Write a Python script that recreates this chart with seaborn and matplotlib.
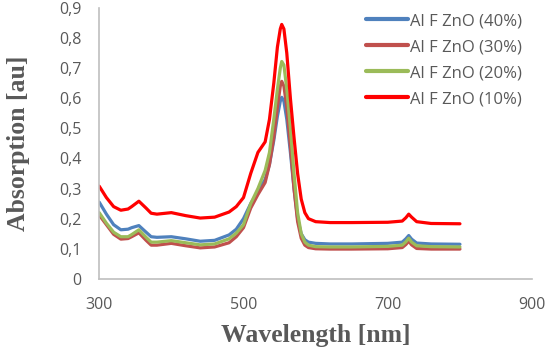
import numpy as np
import pandas as pd
import matplotlib
matplotlib.use("Agg")
import matplotlib.pyplot as plt
from matplotlib.ticker import FuncFormatter
import seaborn as sns

# wavelength grid (nm) shared by all four spectra
wavelength = [300, 310, 320, 330, 340, 345, 355, 365, 372, 380, 400, 420, 440, 460,
              480, 490, 500, 510, 520, 530, 536, 542, 547, 551, 553, 556, 560, 565,
              570, 575, 580, 585, 590, 600, 620, 650, 700, 720, 725, 729, 733, 740,
              760, 800]

abs_40 = [0.255, 0.215, 0.18, 0.163, 0.165, 0.17, 0.177, 0.155, 0.14, 0.138, 0.14, 0.133,
          0.125, 0.128, 0.146, 0.165, 0.2, 0.25, 0.29, 0.33, 0.38, 0.46, 0.54, 0.59,
          0.603, 0.59, 0.53, 0.42, 0.3, 0.2, 0.15, 0.13, 0.122, 0.118, 0.116, 0.116,
          0.118, 0.122, 0.133, 0.144, 0.132, 0.119, 0.116, 0.115]
abs_30 = [0.212, 0.18, 0.148, 0.132, 0.134, 0.14, 0.153, 0.128, 0.112, 0.112, 0.118, 0.11,
          0.103, 0.106, 0.12, 0.14, 0.17, 0.235, 0.28, 0.32, 0.38, 0.47, 0.57, 0.64,
          0.656, 0.64, 0.57, 0.44, 0.3, 0.19, 0.135, 0.112, 0.104, 0.1, 0.099, 0.099,
          0.1, 0.104, 0.114, 0.125, 0.113, 0.101, 0.099, 0.099]
abs_20 = [0.22, 0.185, 0.155, 0.14, 0.14, 0.147, 0.163, 0.138, 0.122, 0.122, 0.127, 0.12,
          0.113, 0.116, 0.133, 0.152, 0.18, 0.25, 0.3, 0.36, 0.42, 0.53, 0.63, 0.7,
          0.722, 0.71, 0.63, 0.5, 0.35, 0.22, 0.15, 0.122, 0.112, 0.107, 0.106, 0.106,
          0.108, 0.112, 0.123, 0.135, 0.122, 0.11, 0.107, 0.106]
abs_10 = [0.308, 0.27, 0.24, 0.228, 0.232, 0.24, 0.258, 0.235, 0.218, 0.215, 0.22, 0.21,
          0.202, 0.205, 0.222, 0.24, 0.27, 0.35, 0.42, 0.455, 0.53, 0.65, 0.77, 0.83,
          0.845, 0.83, 0.75, 0.6, 0.47, 0.35, 0.265, 0.22, 0.2, 0.19, 0.187, 0.187,
          0.188, 0.192, 0.203, 0.215, 0.205, 0.19, 0.184, 0.183]

labels = ["Al F ZnO (40%)", "Al F ZnO (30%)", "Al F ZnO (20%)", "Al F ZnO (10%)"]
colors = ["#4F81BD", "#C0504D", "#9BBB59", "#FF0000"]

frames = []
for lab, vals in zip(labels, [abs_40, abs_30, abs_20, abs_10]):
    frames.append(pd.DataFrame({"wl": wavelength, "absorb": vals, "sample": lab}))
df = pd.concat(frames, ignore_index=True)

sns.set_style("white")
plt.rcParams['font.family'] = ['Open Sans', 'DejaVu Sans']

fig = plt.figure(figsize=(5.48, 3.58), dpi=100)
ax = fig.add_axes([0.181, 0.221, 0.79, 0.757])

sns.lineplot(data=df, x="wl", y="absorb", hue="sample", hue_order=labels,
             palette=dict(zip(labels, colors)), sort=False, linewidth=2.3, ax=ax)

ax.set_xlim(300, 900)
ax.set_ylim(0, 0.9)
ax.set_xticks([300, 500, 700, 900])
ax.set_yticks(np.arange(0, 0.91, 0.1))
ax.yaxis.set_major_formatter(FuncFormatter(lambda v, p: "0" if abs(v) < 1e-9 else f"{v:.1f}".replace(".", ",")))
ax.tick_params(axis="both", length=0, labelsize=11.5, labelcolor="#595959")
ax.tick_params(axis="y", pad=13)
ax.tick_params(axis="x", pad=13)

for side in ["top", "right"]:
    ax.spines[side].set_visible(False)
for side in ["left", "bottom"]:
    ax.spines[side].set_color("#BFBFBF")
    ax.spines[side].set_linewidth(1.2)

ax.set_xlabel("Wavelength [nm]", family="Liberation Serif", fontweight="bold",
              fontsize=18.5, color="#595959")
ax.set_ylabel("Absorption [au]", family="Liberation Serif", fontweight="bold",
              fontsize=18.5, color="#595959")
ax.xaxis.set_label_coords(0.5, -0.21)
ax.xaxis.label.set_va("center")
ax.yaxis.set_label_coords(-0.187, 0.5)
ax.yaxis.label.set_va("center")

leg = ax.legend(loc="upper right", bbox_to_anchor=(1.0, 1.017), frameon=False,
                borderaxespad=0.2, fontsize=12, handlelength=2.5,
                handletextpad=0.15, labelspacing=0.6)
for t in leg.get_texts():
    t.set_color("#595959")
for h in leg.get_lines():
    h.set_linewidth(3)

fig.savefig("out.png", dpi=100)
